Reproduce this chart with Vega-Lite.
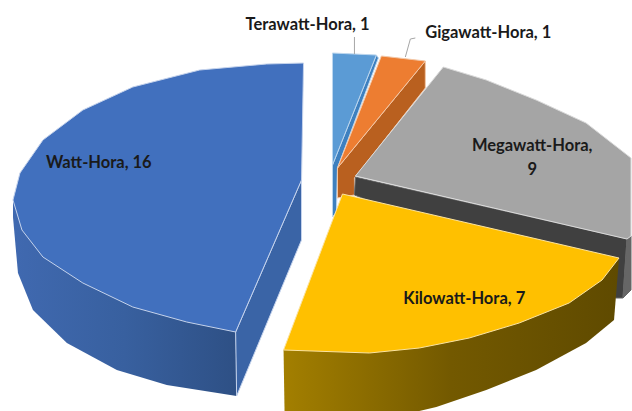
{"$schema":"https://vega.github.io/schema/vega-lite/v6.json","width":632,"height":411,"padding":0,"autosize":{"type":"fit","contains":"padding"},"background":"white","view":{"stroke":null},
"datasets":{"shapes":[
{"p":"blueOuter","i":1,"x":13,"y":200},{"p":"blueOuter","i":2,"x":13,"y":217},{"p":"blueOuter","i":3,"x":18,"y":273},{"p":"blueOuter","i":4,"x":33,"y":310},{"p":"blueOuter","i":5,"x":67,"y":343},{"p":"blueOuter","i":6,"x":117,"y":370},{"p":"blueOuter","i":7,"x":167,"y":385},{"p":"blueOuter","i":8,"x":237,"y":396},{"p":"blueOuter","i":9,"x":236,"y":332},{"p":"blueOuter","i":10,"x":13,"y":200},
{"p":"blueInner","i":1,"x":236,"y":332},{"p":"blueInner","i":2,"x":237,"y":396},{"p":"blueInner","i":3,"x":302,"y":240},{"p":"blueInner","i":4,"x":302,"y":180},{"p":"blueInner","i":5,"x":236,"y":332},
{"p":"blueTop","i":1,"x":304,"y":63},{"p":"blueTop","i":2,"x":302,"y":180},{"p":"blueTop","i":3,"x":236,"y":332},{"p":"blueTop","i":4,"x":187,"y":322},{"p":"blueTop","i":5,"x":133,"y":307},{"p":"blueTop","i":6,"x":83,"y":283},{"p":"blueTop","i":7,"x":43,"y":257},{"p":"blueTop","i":8,"x":22,"y":230},{"p":"blueTop","i":9,"x":13,"y":200},{"p":"blueTop","i":10,"x":20,"y":173},{"p":"blueTop","i":11,"x":43,"y":140},{"p":"blueTop","i":12,"x":83,"y":110},{"p":"blueTop","i":13,"x":133,"y":87},{"p":"blueTop","i":14,"x":200,"y":70},{"p":"blueTop","i":15,"x":267,"y":64},{"p":"blueTop","i":16,"x":304,"y":63},
{"p":"ltSide","i":1,"x":333,"y":165},{"p":"ltSide","i":2,"x":333,"y":217},{"p":"ltSide","i":3,"x":337,"y":212},{"p":"ltSide","i":4,"x":338,"y":168},{"p":"ltSide","i":5,"x":379,"y":58},{"p":"ltSide","i":6,"x":377,"y":55},{"p":"ltSide","i":7,"x":333,"y":165},
{"p":"ltTop","i":1,"x":333,"y":53},{"p":"ltTop","i":2,"x":377,"y":55},{"p":"ltTop","i":3,"x":333,"y":165},{"p":"ltTop","i":4,"x":333,"y":53},
{"p":"orSide","i":1,"x":426,"y":61},{"p":"orSide","i":2,"x":426,"y":88},{"p":"orSide","i":3,"x":355,"y":178},{"p":"orSide","i":4,"x":355,"y":195},{"p":"orSide","i":5,"x":338,"y":198},{"p":"orSide","i":6,"x":338,"y":168},{"p":"orSide","i":7,"x":426,"y":61},
{"p":"orTop","i":1,"x":382,"y":56},{"p":"orTop","i":2,"x":426,"y":61},{"p":"orTop","i":3,"x":338,"y":168},{"p":"orTop","i":4,"x":382,"y":56},
{"p":"grayInner","i":1,"x":356,"y":177},{"p":"grayInner","i":2,"x":628,"y":239},{"p":"grayInner","i":3,"x":624,"y":298},{"p":"grayInner","i":4,"x":617,"y":298},{"p":"grayInner","i":5,"x":355,"y":195},{"p":"grayInner","i":6,"x":356,"y":177},
{"p":"grayOuter","i":1,"x":628,"y":239},{"p":"grayOuter","i":2,"x":632,"y":236},{"p":"grayOuter","i":3,"x":632,"y":290},{"p":"grayOuter","i":4,"x":624,"y":298},{"p":"grayOuter","i":5,"x":628,"y":239},
{"p":"grayTop","i":1,"x":444,"y":67},{"p":"grayTop","i":2,"x":487,"y":80},{"p":"grayTop","i":3,"x":537,"y":100},{"p":"grayTop","i":4,"x":587,"y":123},{"p":"grayTop","i":5,"x":632,"y":158},{"p":"grayTop","i":6,"x":632,"y":236},{"p":"grayTop","i":7,"x":628,"y":239},{"p":"grayTop","i":8,"x":356,"y":176},{"p":"grayTop","i":9,"x":444,"y":67},
{"p":"yelSide","i":1,"x":284,"y":350},{"p":"yelSide","i":2,"x":285,"y":411},{"p":"yelSide","i":3,"x":420,"y":411},{"p":"yelSide","i":4,"x":437,"y":407},{"p":"yelSide","i":5,"x":487,"y":390},{"p":"yelSide","i":6,"x":537,"y":370},{"p":"yelSide","i":7,"x":587,"y":343},{"p":"yelSide","i":8,"x":615,"y":320},{"p":"yelSide","i":9,"x":620,"y":258},{"p":"yelSide","i":10,"x":284,"y":350},
{"p":"yelTop","i":1,"x":343,"y":194},{"p":"yelTop","i":2,"x":620,"y":258},{"p":"yelTop","i":3,"x":603,"y":280},{"p":"yelTop","i":4,"x":570,"y":303},{"p":"yelTop","i":5,"x":520,"y":323},{"p":"yelTop","i":6,"x":470,"y":338},{"p":"yelTop","i":7,"x":420,"y":348},{"p":"yelTop","i":8,"x":370,"y":353},{"p":"yelTop","i":9,"x":284,"y":350},{"p":"yelTop","i":10,"x":343,"y":194}
],
"leaders":[
{"p":"tera","i":1,"x":355,"y":37},{"p":"tera","i":2,"x":355,"y":54},
{"p":"giga","i":1,"x":416,"y":38},{"p":"giga","i":2,"x":411,"y":39},{"p":"giga","i":3,"x":406,"y":57}
],
"labels":[
{"label":"Terawatt-Hora, 1","value":1,"x":308,"y":25},
{"label":"Gigawatt-Hora, 1","value":1,"x":489,"y":33},
{"label":"Megawatt-Hora,\n9","value":9,"x":533,"y":146},
{"label":"Kilowatt-Hora, 7","value":7,"x":465,"y":299},
{"label":"Watt-Hora, 16","value":16,"x":99,"y":163}
]},
"encoding":{
"x":{"field":"x","type":"quantitative","scale":{"domain":[0,632]},"axis":null},
"y":{"field":"y","type":"quantitative","scale":{"domain":[411,0]},"axis":null}
},
"layer":[
{"data":{"name":"shapes"},"transform":[{"filter":"datum.p==='blueOuter'"}],
"mark":{"type":"line","stroke":null,"fill":{"gradient":"linear","x1":0,"y1":0,"x2":1,"y2":0,"stops":[{"offset":0,"color":"#4069B0"},{"offset":0.5,"color":"#38609F"},{"offset":1,"color":"#2E5085"}]}},
"encoding":{"order":{"field":"i","type":"quantitative"}}},
{"data":{"name":"shapes"},"transform":[{"filter":"datum.p!=='blueOuter' && datum.p!=='yelSide' && datum.p!=='yelTop'"}],
"mark":{"type":"line","strokeWidth":1,"strokeJoin":"round"},
"encoding":{"order":{"field":"i","type":"quantitative"},"detail":{"field":"p"},
"fill":{"field":"p","type":"nominal","legend":null,"sort":null,"scale":{"domain":["blueInner","blueTop","ltSide","ltTop","orSide","orTop","grayInner","grayOuter","grayTop"],"range":["#3A64A6","#4170BE","#3E80BF","#5B9BD5","#B9601F","#ED7D31","#404040","#666666","#A5A5A5"]}},
"stroke":{"field":"p","type":"nominal","legend":null,"sort":null,"scale":{"domain":["blueInner","blueTop","ltSide","ltTop","orSide","orTop","grayInner","grayOuter","grayTop"],"range":["#C5D3EC","#C5D3EC","#BCD6EE","#BCD6EE","#F3C8A8","#F3C8A8","#666666","#666666","#DADADA"]}}}},
{"data":{"name":"shapes"},"transform":[{"filter":"datum.p==='yelSide'"}],
"mark":{"type":"line","stroke":null,"fill":{"gradient":"linear","x1":0,"y1":0,"x2":1,"y2":0,"stops":[{"offset":0,"color":"#A37F00"},{"offset":0.5,"color":"#735900"},{"offset":1,"color":"#5F4A00"}]}},
"encoding":{"order":{"field":"i","type":"quantitative"}}},
{"data":{"name":"shapes"},"transform":[{"filter":"datum.p==='yelTop'"}],
"mark":{"type":"line","fill":"#FFC000","stroke":"#FBE3A0","strokeWidth":1},
"encoding":{"order":{"field":"i","type":"quantitative"}}},
{"data":{"name":"leaders"},
"mark":{"type":"line","stroke":"#A6A6A6","strokeWidth":1},
"encoding":{"order":{"field":"i","type":"quantitative"},"detail":{"field":"p"}}},
{"data":{"name":"labels"},
"mark":{"type":"text","font":"Lato","fontWeight":"bold","fontSize":16.5,"fill":"#1A1A1A","align":"center","baseline":"middle","lineBreak":"\n","lineHeight":24},
"encoding":{"text":{"field":"label"}}}
]}
